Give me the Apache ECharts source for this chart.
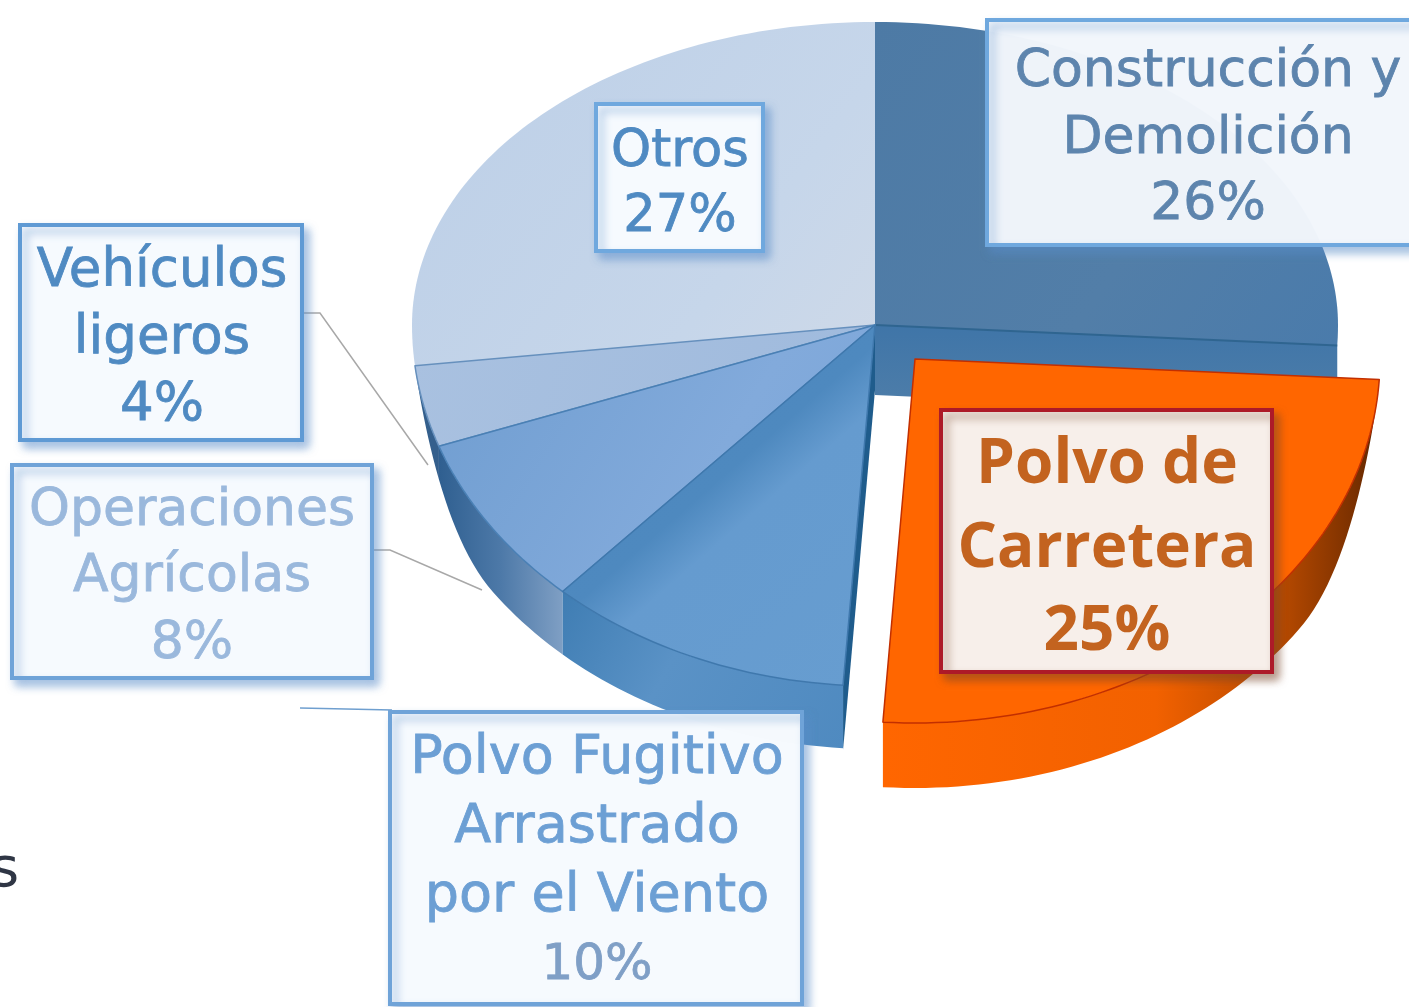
<!DOCTYPE html>
<html><head><meta charset="utf-8">
<style>html,body{margin:0;padding:0;background:#fff;overflow:hidden}#c{width:1409px;height:1007px}</style>
<script src="https://cdn.jsdelivr.net/npm/echarts@6/dist/echarts.min.js"></script>
</head><body><div id="c"></div>
<script>
// ---- data (clockwise from 12 o'clock) ----
const categories = ['Construcción y Demolición','Polvo de Carretera','Polvo Fugitivo Arrastrado por el Viento','Operaciones Agrícolas','Vehículos ligeros','Otros'];
const values = [26,25,10,8,4,27];
const labelLines = [
  ['Construcción y','Demolición'],
  ['Polvo de','Carretera'],
  ['Polvo Fugitivo','Arrastrado','por el Viento'],
  ['Operaciones','Agrícolas'],
  ['Vehículos','ligeros'],
  ['Otros']
];

// ---- layout and style ----
const CX=875, CY=325, RX=463, RY_BACK=303, RY_FRONT=361, DEPTH=63, WARP=0.05;
const drawOrder=[0,5,4,3,2,1];
const G=echarts.graphic.LinearGradient;
const grad=(x,y,x2,y2,s)=>new G(x,y,x2,y2,s.map((c,i)=>({offset:c[0],color:c[1]})));
const sliceStyle=[
 {off:[0,0],top:grad(0,0,1,1,[[0,'#4d7aa5'],[.6,'#527ea8'],[1,'#4a7bab']]),stroke:null,
  wall:null,cut:grad(0,0,0,1,[[0,'#3f75a8'],[1,'#4f7ea9']]),line:[ '#2f6590',2]},
 {off:[40,34],rx:465,ry:364,dep:65,top:'#ff6600',stroke:'#c22f00',
  wall:grad(0,0,1,0,[[0,'#ff6600'],[.55,'#f26100'],[.8,'#b84a00'],[.95,'#7a3000'],[1,'#5e2600']])},
 {off:[0,0],top:grad(0,0,1,1,[[0,'#4a86bd'],[.46,'#4e89bf'],[.56,'#659bcf'],[1,'#679dd0']]),stroke:'#3f78ad',
  wall:grad(0,0,1,1,[[0,'#3f7db3'],[.4,'#5a92c6'],[1,'#4f8ac0']]),cut:'#1f5c8c'},
 {off:[0,0],top:grad(0,0,1,1,[[0,'#6f9dd0'],[.6,'#82aadb'],[1,'#7ba5d8']]),stroke:'#4a80b5',
  wall:grad(0,0,1,0,[[0,'#2f5f90'],[.5,'#4d79a8'],[1,'#7f9fc4']])},
 {off:[0,0],top:grad(0,0,1,1,[[0,'#a9c1e0'],[1,'#9fbadd']]),stroke:'#6690bd',
  wall:'#345f8c'},
 {off:[0,0],top:grad(0,0,1,1,[[0,'#bccfe7'],[.7,'#c6d6ea'],[1,'#ced9e8']]),stroke:null,wall:'#41709f'}
];
const boxLayout=[
 {r:[987,20,1424,245],cx:1208,y:[72,139,205],font:'52px',fill:'rgba(245,248,252,0.96)',border:'#6fa8de',color:'#5d84ad'},
 {r:[941,410,1272,672],cx:1107,y:[465,549,632],font:'bold 62px',fill:'#f7efea',border:'#ad1a28',color:'#c3631f'},
 {r:[390,712,802,1004],cx:597,y:[759,828,897,966],font:'54px',fill:'rgba(248,251,254,0.98)',border:'#6fa3d8',color:'#6c9fd4',lastFont:'50px',lastColor:'#7f9fc6'},
 {r:[12,465,372,678],cx:192,y:[511,577,644],font:'52px',fill:'rgba(248,251,254,0.98)',border:'#6fa3d8',color:'#9ab8dc'},
 {r:[20,225,302,440],cx:162,y:[272,339,406],font:'53px',fill:'rgba(248,251,254,0.98)',border:'#5f9ad4',color:'#4f8ac2'},
 {r:[596,104,763,251],cx:680,y:[153,218],font:'51px',fill:'rgba(248,251,254,0.98)',border:'#6fa8de',color:'#4f8ac2'}
];
const leaders=[
 {p:[[302,313],[320,313],[428,465]],c:'#a8a8a8'},
 {p:[[372,550],[390,550],[482,590]],c:'#a8a8a8'},
 {p:[[300,708],[392,710]],c:'#6f9fcf'}
];
const FONT='"DejaVu Sans",sans-serif', FONT_BOLD='"Open Sans",sans-serif';

const total=values.reduce((a,b)=>a+b,0);
const starts=[];values.reduce((a,v,i)=>(starts[i]=a,a+v),0);

function pt(frac,st){
  const off=st.off,t0=frac*2*Math.PI,t=t0+WARP*Math.sin(2*(t0-Math.PI)),c=Math.cos(t);
  return [CX+off[0]+(st.rx||RX)*Math.sin(t),CY+off[1]-c*(c>0?RY_BACK:(st.ry||RY_FRONT))];
}
function wallDepth(frac,st){
  const c=-Math.cos(frac*2*Math.PI);
  const u=Math.max(0,Math.min(1,(c-0.12)/0.48));
  return (st.dep||DEPTH)*u*u*(3-2*u);
}
function renderSlice(params,api){
  const i=api.value(0),v=api.value(1),s=api.value(2);
  const a=s/total,b=(s+v)/total,st=sliceStyle[i],off=st.off,ch=[];
  const n=Math.max(4,Math.ceil(v*3));
  const rim=[];for(let k=0;k<=n;k++)rim.push(a+(b-a)*k/n);
  const apex=[CX+off[0],CY+off[1]];
  if(st.cut){
    const f=i===0?b:a,e=pt(f,st),d=i===0?70:DEPTH+2;
    ch.push({type:'polygon',shape:{points:[apex,e,[e[0],e[1]+d],[apex[0],apex[1]+d]]},style:{fill:st.cut}});
  }
  if(st.wall){
    const from=Math.max(a,.25),to=Math.min(b,.75);
    if(to>from){
      const top=[],bot=[];
      for(let k=0;k<=n;k++){const f=from+(to-from)*k/n,p=pt(f,st);top.push(p);bot.unshift([p[0],p[1]+wallDepth(f,st)]);}
      ch.push({type:'polygon',shape:{points:top.concat(bot)},style:{fill:st.wall}});
    }
  }
  ch.push({type:'polygon',shape:{points:[apex].concat(rim.map(f=>pt(f,st)))},
    style:{fill:st.top,stroke:st.stroke||null,lineWidth:st.stroke?1.5:0,lineJoin:'round'}});
  if(st.line){
    const e=pt(b,st);
    ch.push({type:'line',shape:{x1:apex[0],y1:apex[1],x2:e[0],y2:e[1]},style:{stroke:st.line[0],lineWidth:st.line[1]}});
  }
  return {type:'group',children:ch};
}
function renderLabel(params,api){
  const i=api.value(0),v=api.value(1),L=boxLayout[i];
  const [x0,y0,x1,y1]=L.r,ch=[];
  ch.push({type:'rect',shape:{x:x0,y:y0,width:x1-x0,height:y1-y0},
    style:{fill:L.fill,stroke:L.border,lineWidth:4,shadowBlur:9,shadowOffsetX:5,shadowOffsetY:6,shadowColor:i===1?'rgba(120,70,40,0.55)':'rgba(90,140,200,0.55)'}});
  const lines=labelLines[i].concat([v+'%']);
  lines.forEach((t,k)=>{
    const last=k===lines.length-1;
    const color=last&&L.lastColor?L.lastColor:L.color;
    const size=last&&L.lastFont?L.lastFont:L.font;
    ch.push({type:'text',style:{text:t,x:L.cx,y:L.y[k],align:'center',verticalAlign:'middle',
      font:size+' '+(i===1?FONT_BOLD:FONT),fill:color,stroke:i===1?null:color,lineWidth:i===1?0:0.8}});
  });
  return {type:'group',children:ch};
}
function renderLeader(params,api){
  const L=leaders[api.value(0)];
  return {type:'polyline',shape:{points:L.p},style:{stroke:L.c,lineWidth:1.5,fill:null}};
}
const chart=echarts.init(document.getElementById('c'),null,{renderer:'canvas'});
chart.setOption({
  backgroundColor:'#fff',animation:false,
  series:[
    {type:'custom',coordinateSystem:'none',silent:true,renderItem:renderSlice,
     data:drawOrder.map(i=>[i,values[i],starts[i]])},
    {type:'custom',coordinateSystem:'none',silent:true,renderItem:renderLeader,
     data:leaders.map((l,i)=>[i])},
    {type:'custom',coordinateSystem:'none',silent:true,renderItem:renderLabel,
     data:categories.map((c,i)=>[i,values[i]])}
  ],
  graphic:[{type:'text',left:-10,top:843,silent:true,z:10,style:{text:'s',font:'56px '+FONT,fill:'#2f3645'}}]
});
</script></body></html>
